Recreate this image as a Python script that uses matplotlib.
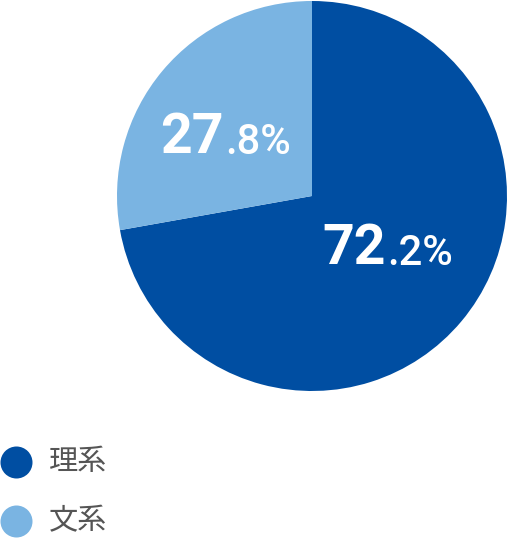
import matplotlib
matplotlib.use("Agg")
import matplotlib.pyplot as plt

# data
categories = ["理系", "文系"]
shares = [72.2, 27.8]
colors = ["#004ea2", "#7ab4e2"]

W, H = 524, 546
fig = plt.figure(figsize=(W / 100, H / 100), dpi=100)
ax = fig.add_axes([0, 0, 1, 1])

cx, cy, r = 312, H - 196, 195
wedges, _ = ax.pie(shares, colors=colors, startangle=90, counterclock=False,
                   center=(cx, cy), radius=r, frame=True,
                   wedgeprops=dict(linewidth=0))
ax.set_xlim(0, W)
ax.set_ylim(0, H)
ax.set_aspect("equal")
ax.axis("off")

# percentage labels: big integer part, small decimal part
label_pos = [(386, H - 264), (224, H - 153)]
num_font = "Roboto"
for val, (x, y) in zip(shares, label_pos):
    whole, dec = f"{val:.1f}".split(".")
    ax.text(x, y, whole, ha="right", va="baseline", color="white",
            fontsize=40, fontweight="bold", family=num_font)
    ax.text(x + 1, y - 1, "." + dec + "%", ha="left", va="baseline",
            color="white", fontsize=30, fontweight="medium", family=num_font)

# legend
legend_y = [H - 462, H - 521]
for name, col, y in zip(categories, colors, legend_y):
    ax.scatter([16], [y], s=(32 * 0.72) ** 2, color=col, linewidths=0,
               clip_on=False)
    ax.text(49, y, name, ha="left", va="center", color="#555555",
            fontsize=21, family=["Noto Sans CJK JP", "DejaVu Sans"])

fig.savefig("out.png", dpi=100)
